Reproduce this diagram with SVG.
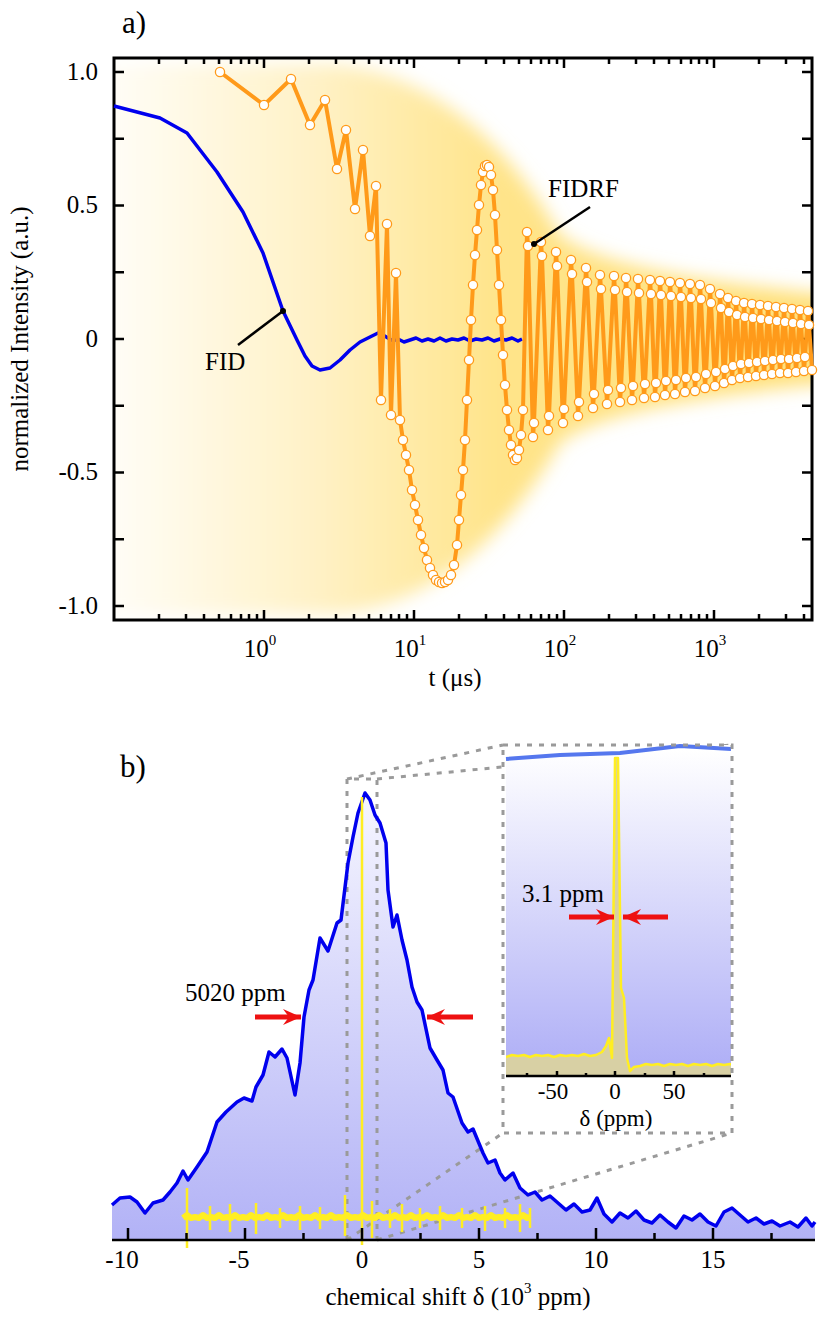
<svg xmlns="http://www.w3.org/2000/svg" width="830" height="1320" viewBox="0 0 830 1320" font-family="'Liberation Serif', 'Times New Roman', serif">
<style>
text{font-family:"Liberation Serif","Times New Roman",serif;fill:#000}
.t{font-size:25px}
.ti{font-size:23px}
.ax{fill:none;stroke:#000;stroke-width:3}
.tk{stroke:#000;stroke-width:2.5}
.or{fill:none;stroke:#ff9a1a;stroke-width:4;stroke-linejoin:round;marker-start:url(#c);marker-mid:url(#c);marker-end:url(#c)}
.bl{fill:none;stroke:#0000ee;stroke-width:3.5;stroke-linejoin:round}
.ye{fill:none;stroke:#ffee22;stroke-linejoin:round}
.da{fill:none;stroke:#9a9a9a;stroke-width:3;stroke-dasharray:5 7}
.ptr{stroke:#000;stroke-width:2.5}
.ar{stroke:#ee1111;stroke-width:5;marker-end:url(#ah)}
</style>
<defs>
<marker id="c" markerUnits="userSpaceOnUse" markerWidth="12" markerHeight="12" refX="6" refY="6" overflow="visible"><circle cx="6" cy="6" r="4.6" fill="#fff" stroke="#ff9a1a" stroke-width="1.3"/></marker>
<marker id="ah" markerUnits="userSpaceOnUse" markerWidth="20" markerHeight="16" refX="18" refY="8" orient="auto"><path d="M0,0 L18,8 L0,16 L6,8 Z" fill="#ee1111"/></marker>
<linearGradient id="gl" x1="114" y1="0" x2="812" y2="0" gradientUnits="userSpaceOnUse"><stop offset="0" stop-color="#fffdf6"/><stop offset="0.3" stop-color="#fff1c4"/><stop offset="0.55" stop-color="#ffe48a"/><stop offset="1" stop-color="#ffe07a"/></linearGradient>
<filter id="bf" x="-10%" y="-10%" width="120%" height="120%"><feGaussianBlur stdDeviation="9"/></filter>
<clipPath id="ca"><rect x="114" y="58" width="698" height="562"/></clipPath>
<clipPath id="ci"><rect x="506" y="745" width="225" height="331"/></clipPath>
<clipPath id="cy"><rect x="180" y="780" width="351" height="480"/></clipPath>
<linearGradient id="gb" x1="0" y1="793" x2="0" y2="1240" gradientUnits="userSpaceOnUse"><stop offset="0" stop-color="#f6f6ff"/><stop offset="1" stop-color="#b2b2f6"/></linearGradient>
<linearGradient id="gi" x1="0" y1="750" x2="0" y2="1076" gradientUnits="userSpaceOnUse"><stop offset="0" stop-color="#ffffff"/><stop offset="1" stop-color="#adadf6"/></linearGradient>
</defs>

<g id="panel-a">
<g clip-path="url(#ca)"><path d="M100,64 L330,64 C420,70 500,130 560,235 C600,266 700,282 840,296 L840,382 C700,396 600,412 560,443 C500,548 420,610 330,614 L100,614 Z" fill="url(#gl)" filter="url(#bf)"/></g>
<rect class="ax" x="114" y="58" width="698" height="562"/>
<path class="tk" d="M159,58v6M186,58v6M204,58v6M219,58v6M231,58v6M241,58v6M249,58v6M257,58v6M264,58v10M309,58v6M336,58v6M354,58v6M369,58v6M381,58v6M391,58v6M399,58v6M407,58v6M414,58v10M459,58v6M486,58v6M504,58v6M519,58v6M531,58v6M541,58v6M549,58v6M557,58v6M564,58v10M609,58v6M636,58v6M654,58v6M669,58v6M681,58v6M691,58v6M699,58v6M707,58v6M714,58v10M759,58v6M786,58v6M804,58v6
M159,620v-6M186,620v-6M204,620v-6M219,620v-6M231,620v-6M241,620v-6M249,620v-6M257,620v-6M264,620v-10M309,620v-6M336,620v-6M354,620v-6M369,620v-6M381,620v-6M391,620v-6M399,620v-6M407,620v-6M414,620v-10M459,620v-6M486,620v-6M504,620v-6M519,620v-6M531,620v-6M541,620v-6M549,620v-6M557,620v-6M564,620v-10M609,620v-6M636,620v-6M654,620v-6M669,620v-6M681,620v-6M691,620v-6M699,620v-6M707,620v-6M714,620v-10M759,620v-6M786,620v-6M804,620v-6
M114,72h10M114,138.75h10M114,205.5h10M114,272.25h10M114,339h10M114,405.75h10M114,472.5h10M114,539.25h10M114,606h10
M812,72h-10M812,138.75h-10M812,205.5h-10M812,272.25h-10M812,339h-10M812,405.75h-10M812,472.5h-10M812,539.25h-10M812,606h-10"/>
<g class="t" text-anchor="end"><text x="98" y="80">1.0</text><text x="98" y="213">0.5</text><text x="98" y="347">0</text><text x="98" y="480">-0.5</text><text x="98" y="614">-1.0</text></g>
<g class="t" text-anchor="middle"><text x="260" y="657">10<tspan font-size="15" dy="-12">0</tspan></text><text x="410" y="657">10<tspan font-size="15" dy="-12">1</tspan></text><text x="560" y="657">10<tspan font-size="15" dy="-12">2</tspan></text><text x="710" y="657">10<tspan font-size="15" dy="-12">3</tspan></text></g>
<text class="t" x="455" y="686" text-anchor="middle">t (μs)</text>
<text class="t" x="28" y="339" text-anchor="middle" transform="rotate(-90 28 339)">normalized Intensity (a.u.)</text>
<text x="122" y="33" font-size="31">a)</text>
</g>

<g id="fid">
<polyline class="bl" points="114,106 160,118 187,133 217,172 243,212 263,253 283,311 297,340 305,356 312,366 320,370 330,368 340,360 350,350 360,342 372,336 378,333 383,335 388,338 393,341 398,339 404,342 410,340 416,338 422,341 428,339 434,341 440,338 446,341 452,339 458,340 464,338 470,341 476,339 482,340 488,338 494,341 500,339 506,340 512,338 518,341 522,339"/>
</g>

<g id="fidrf">
<polyline class="or" points="220,72 264,105 291,79 310,125 325,100 337,169 346,130 355,209 363,150 370,236 376,186 381,400 387,224 391,415 396,273 400,420 403,440 406,455 409,470 412,490 415,505 418,520 421,535 424,548 427,560 430,568 433,575 436,580 439,582 442,583 445,582 448,580 451,575 454,565 457,545 459,520 461,495 463,470 465,440 467,400 469,360 471,320 473,285 475,255 477,230 479,205 481,185 483,172 485,166 487,165 489,167 491,175 493,190 495,215 497,250 499,285 501,320 503,355 505,385 507,410 509,430 511,445 513,455 515,460 517,458 519,450 521,435 523,410 527,232 528,246 533,437 534,423 541,242 542,256 548,430 549,416 556,252 557,266 563,423 564,409 571,260 572,274 578,416 579,402 586,268 587,282 593,408 594,394 600,275 601,289 607,404 608,390 614,276 615,290 620,402 621,388 626,278 627,292 632,400 633,386 638,279 639,293 644,398 645,384 650,280 651,294 655,397 656,383 660,281 661,295 665,395 666,381 670,282 671,296 675,394 676,380 680,283 681,297 685,392 686,378 690,284 691,298 695,391 696,377 700,285 701,299 705,388 706,374 710,289 711,303 715,386 716,372 720,294 721,308 724,383 725,369 728,298 729,312 732,380 733,366 736,301 737,315 740,378 741,364 744,303 745,317 748,377 749,363 752,304 753,318 756,376 757,362 760,305 761,319 764,375 765,361 768,306 769,320 772,374 773,360 776,307 777,321 780,373 781,359 784,308 785,322 788,373 789,359 792,309 793,323 796,372 797,358 800,310 801,324 804,371 805,357 808,311 809,325 812,370"/>
</g>

<g id="labels-a">
<line class="ptr" x1="283" y1="311" x2="238" y2="345"/><circle cx="283" cy="311" r="3"/>
<text class="t" x="205" y="370">FID</text>
<line class="ptr" x1="534" y1="244" x2="590" y2="207"/><circle cx="534" cy="244" r="3"/>
<text class="t" x="548" y="197">FIDRF</text>
</g>

<g id="panel-b">
<path d="M112,1205 120,1198 130,1197 137,1202 145,1213 153,1203 163,1200 170,1192 177,1183 183,1171 188,1180 197,1167 207,1152 217,1122 226,1112 237,1102 244,1098 252,1101 256,1087 263,1075 269,1052 275,1057 282,1049 287,1058 295,1095 300,1063 304,1017 309,990 313,980 320,938 328,951 337,923 341,920 348,863 353,837 358,813 365,793 370,800 375,815 380,823 386,843 388,890 393,927 397,915 402,940 407,960 412,987 417,1002 422,1010 430,1048 437,1060 443,1070 448,1093 453,1097 462,1123 468,1132 473,1129 483,1153 488,1163 495,1160 500,1173 505,1180 513,1173 520,1188 528,1195 535,1192 542,1200 550,1196 558,1203 566,1210 574,1204 582,1212 590,1210 597,1198 604,1214 612,1222 620,1213 628,1218 636,1211 644,1220 652,1223 660,1215 668,1222 676,1228 684,1216 692,1220 700,1214 708,1222 716,1226 724,1212 732,1208 740,1215 748,1222 756,1218 764,1224 772,1221 780,1226 790,1222 798,1227 806,1218 812,1226 815,1222 L815,1240 L112,1240 Z" fill="url(#gb)"/>
<g id="zoom-box">
<path class="da" d="M347,1240 V779 H377 V1240 M347,779 L503,745 M377,779 L732,745 M347,1240 L503,1133 M377,1240 L732,1133"/>
</g>
<polyline class="bl" stroke-width="4" points="112,1205 120,1198 130,1197 137,1202 145,1213 153,1203 163,1200 170,1192 177,1183 183,1171 188,1180 197,1167 207,1152 217,1122 226,1112 237,1102 244,1098 252,1101 256,1087 263,1075 269,1052 275,1057 282,1049 287,1058 295,1095 300,1063 304,1017 309,990 313,980 320,938 328,951 337,923 341,920 348,863 353,837 358,813 365,793 370,800 375,815 380,823 386,843 388,890 393,927 397,915 402,940 407,960 412,987 417,1002 422,1010 430,1048 437,1060 443,1070 448,1093 453,1097 462,1123 468,1132 473,1129 483,1153 488,1163 495,1160 500,1173 505,1180 513,1173 520,1188 528,1195 535,1192 542,1200 550,1196 558,1203 566,1210 574,1204 582,1212 590,1210 597,1198 604,1214 612,1222 620,1213 628,1218 636,1211 644,1220 652,1223 660,1215 668,1222 676,1228 684,1216 692,1220 700,1214 708,1222 716,1226 724,1212 732,1208 740,1215 748,1222 756,1218 764,1224 772,1221 780,1226 790,1222 798,1227 806,1218 812,1226 815,1222"/>
<g id="yellow-main">
<path class="ye" stroke-width="6" clip-path="url(#cy)" d="M183,1218 l4,-3 4,3 4,-1 4,1 4,-3 4,3 4,-1 4,1 4,-3 4,3 4,-1 4,1 4,-3 4,3 4,-1 4,1 4,-3 4,3 4,-1 4,1 4,-3 4,3 4,-1 4,1 4,-3 4,3 4,-1 4,1 4,-3 4,3 4,-1 4,1 4,-3 4,3 4,-1 4,1 4,-3 4,3 4,-1 4,1 4,-3 4,3 4,-1 4,1 4,-3 4,3 4,-1 4,1 4,-3 4,3 4,-1 4,1 4,-3 4,3 4,-1 4,1 4,-3 4,3 4,-1 4,1 4,-3 4,3 4,-1 4,1 4,-3 4,3 4,-1 4,1 4,-3 4,3 4,-1 4,1 4,-3 4,3 4,-1 4,1 4,-3 4,3 4,-1 4,1 4,-3 4,3 4,-1 4,1 4,-3 4,3 4,-1 4,1 4,-3 4,3 4,-1 4,1 4,-3 4,3 2,0"/>
<path class="ye" stroke-width="2.5" d="M187,1188V1248M210,1206V1230M230,1204V1232M256,1203V1234M280,1208V1228M300,1206V1230M320,1207V1229M345,1195V1236M362,797V1245M372,1201V1238M390,1209V1228M402,1204V1232M420,1208V1228M440,1206V1230M462,1208V1228M485,1206V1231M505,1208V1228M520,1204V1232M530,1208V1228"/>
</g>
<path class="tk" stroke-width="3" d="M112,1240H815"/>
<path class="tk" d="M128,1240v-12M245,1240v-12M362,1240v-12M479,1240v-12M596,1240v-12M713,1240v-12M186.5,1240v-7M303.5,1240v-7M420.5,1240v-7M537.5,1240v-7M654.5,1240v-7M771.5,1240v-7"/>
<g class="t" text-anchor="middle"><text x="122" y="1268">-10</text><text x="239" y="1268">-5</text><text x="362" y="1268">0</text><text x="479" y="1268">5</text><text x="596" y="1268">10</text><text x="713" y="1268">15</text></g>
<text class="t" x="458" y="1305" text-anchor="middle">chemical shift δ (10<tspan font-size="15" dy="-12">3</tspan><tspan dy="12"> ppm)</tspan></text>
<text x="120" y="777" font-size="31">b)</text>
<text class="t" x="185" y="1001">5020 ppm</text>
<line class="ar" x1="255" y1="1017" x2="301" y2="1017"/>
<line class="ar" x1="473" y1="1017" x2="427" y2="1017"/>
</g>

<g id="inset">
<rect x="503" y="745" width="229" height="388" fill="#fff" stroke="none"/>
<path d="M506,759 L560,755 620,753 680,746 731,749 V1076 H506 Z" fill="url(#gi)"/>
<g clip-path="url(#ci)">
<path d="M506,1057 l6,-2 6,1 6,-1 6,2 6,-2 6,1 6,-1 6,2 6,-2 6,1 6,-1 6,1 6,-2 6,2 6,-1 6,-3 4,-6 3,-8 3,20 3,-300 3,0 3,230 3,10 3,60 3,13 4,-4 6,-1 6,-2 6,1 6,-1 6,2 6,-2 6,1 6,-1 6,2 6,-2 6,1 6,-1 6,2 6,-2 6,1 6,-1 6,2 6,-1 V1076 H506 Z" fill="#d8d0a4"/>
<path class="ye" stroke-width="2.5" d="M506,1057 l6,-2 6,1 6,-1 6,2 6,-2 6,1 6,-1 6,2 6,-2 6,1 6,-1 6,1 6,-2 6,2 6,-1 6,-3 4,-6 3,-8 3,20 3,-300 3,0 3,230 3,10 3,60 3,13 4,-4 6,-1 6,-2 6,1 6,-1 6,2 6,-2 6,1 6,-1 6,2 6,-2 6,1 6,-1 6,2 6,-2 6,1 6,-1 6,2 6,-1"/>
</g>
<path d="M506,759 L560,755 620,753 680,746 731,749" fill="none" stroke="#5577ee" stroke-width="4"/>
<path class="tk" stroke-width="3" d="M506,1076H731"/>
<path class="tk" d="M557,1076v-5M615,1076v-5M674,1076v-5M527,1076v-3M586,1076v-3M645,1076v-3M704,1076v-3"/>
<g class="ti" text-anchor="middle"><text x="553" y="1099">-50</text><text x="615" y="1099">0</text><text x="674" y="1099">50</text></g>
<text class="ti" x="616" y="1126" text-anchor="middle">δ (ppm)</text>
<text class="t" x="522" y="902">3.1 ppm</text>
<line class="ar" x1="569" y1="917" x2="614" y2="917"/>
<line class="ar" x1="668" y1="917" x2="623" y2="917"/>
<rect class="da" x="503" y="745" width="229" height="388"/>
</g>
</svg>
